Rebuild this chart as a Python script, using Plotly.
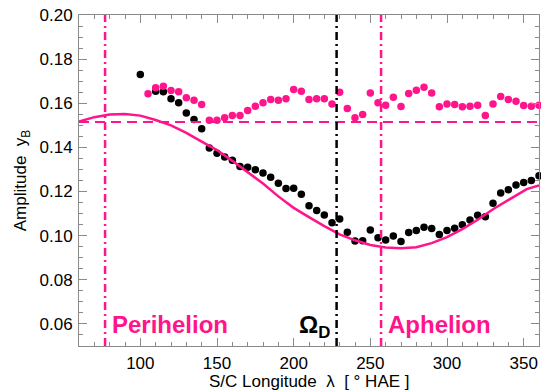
import plotly.graph_objects as go

# ---- data ----
black_lon = [100, 110, 115, 120, 125, 130, 135, 140, 145, 150, 155, 160, 165, 170, 175,
             180, 185, 190, 195, 200, 205, 210, 215, 220, 225, 230, 235, 240, 245, 250,
             255, 260, 265, 270, 275, 280, 285, 290, 295, 300, 305, 310, 315, 320, 325,
             330, 335, 340, 345, 350, 355, 360]
black_amp = [0.1730, 0.1655, 0.1652, 0.1621, 0.1602, 0.1556, 0.1526, 0.1484, 0.1397, 0.1373,
             0.1357, 0.1342, 0.1314, 0.1310, 0.1299, 0.1284, 0.1265, 0.1238, 0.1214, 0.1215,
             0.1188, 0.1136, 0.1114, 0.1094, 0.1059, 0.1076, 0.1015, 0.0976, 0.0977, 0.1026,
             0.0991, 0.0980, 0.0999, 0.0973, 0.1014, 0.1023, 0.1038, 0.1032, 0.1005, 0.1023,
             0.1034, 0.1049, 0.1071, 0.1093, 0.1086, 0.1147, 0.1193, 0.1208, 0.1230, 0.1241,
             0.1250, 0.1271]

pink_lon = [105, 110, 115, 120, 125, 130, 135, 140, 145, 150, 155, 160, 165, 170, 175,
            180, 185, 190, 195, 200, 205, 210, 215, 220, 225, 230, 235, 240, 245, 250,
            255, 260, 265, 270, 275, 280, 285, 290, 295, 300, 305, 310, 315, 320, 325,
            330, 335, 340, 345, 350, 355, 360]
pink_amp = [0.1643, 0.1670, 0.1677, 0.1658, 0.1652, 0.1625, 0.1614, 0.1594, 0.1523, 0.1523,
            0.1534, 0.1544, 0.1544, 0.1567, 0.1586, 0.1602, 0.1617, 0.1614, 0.1621, 0.1662,
            0.1655, 0.1617, 0.1620, 0.1620, 0.1597, 0.1650, 0.1576, 0.1534, 0.1549, 0.1647,
            0.1602, 0.1591, 0.1627, 0.1585, 0.1644, 0.1659, 0.1673, 0.1647, 0.1584, 0.1597,
            0.1594, 0.1584, 0.1586, 0.1591, 0.1545, 0.1597, 0.1631, 0.1617, 0.1609, 0.1590,
            0.1586, 0.1591]

model_lon = [60, 70, 80, 90, 100, 110, 120, 130, 140, 150, 160, 170, 180, 190, 200, 210,
             220, 230, 240, 250, 260, 270, 280, 290, 300, 310, 320, 330, 340, 350, 352, 360]
model_amp = [0.1517, 0.1537, 0.1549, 0.1551, 0.1544, 0.1524, 0.1500, 0.1466, 0.1426, 0.1388,
             0.1339, 0.1288, 0.1236, 0.1178, 0.1126, 0.1084, 0.1043, 0.1006, 0.0979, 0.0958,
             0.0946, 0.0943, 0.0948, 0.0966, 0.0993, 0.1030, 0.1072, 0.1120, 0.1163, 0.1203,
             0.1211, 0.1228]

mean_amp = 0.1515
perihelion_lon = 77
aphelion_lon = 257
omega_lon = 228

x_range = [60, 360]
y_range = [0.05, 0.20]
x_ticks = [100, 150, 200, 250, 300, 350]
y_ticks = [0.06, 0.08, 0.10, 0.12, 0.14, 0.16, 0.18, 0.20]

PINK = "#FF148C"
FONT = "Liberation Sans, Arial, Helvetica, sans-serif"
AXC = "#8a8a8a"

fig = go.Figure()

# dots
fig.add_trace(go.Scatter(x=black_lon, y=black_amp, mode="markers",
                         marker=dict(color="black", size=7.5), cliponaxis=False))
fig.add_trace(go.Scatter(x=pink_lon, y=pink_amp, mode="markers",
                         marker=dict(color=PINK, size=7.5), cliponaxis=False))
# model curve
fig.add_trace(go.Scatter(x=model_lon, y=model_amp, mode="lines",
                         line=dict(color=PINK, width=2.5)))
# mean dashed line
fig.add_trace(go.Scatter(x=x_range, y=[mean_amp, mean_amp], mode="lines",
                         line=dict(color=PINK, width=2.2, dash="10px,6px")))
# vertical dash-dot lines
for xv, col in [(perihelion_lon, PINK), (aphelion_lon, PINK), (omega_lon, "black")]:
    fig.add_trace(go.Scatter(x=[xv, xv], y=y_range, mode="lines",
                             line=dict(color=col, width=2.5, dash="8px,4px,2px,4px")))

# labels
fig.add_annotation(x=perihelion_lon + 3.5, y=0.0598, xanchor="left", yanchor="middle",
                   text="<b>Perihelion</b>", showarrow=False,
                   font=dict(family=FONT, size=24, color=PINK))
fig.add_annotation(x=aphelion_lon + 3.5, y=0.0598, xanchor="left", yanchor="middle",
                   text="<b>Aphelion</b>", showarrow=False,
                   font=dict(family=FONT, size=24, color=PINK))
fig.add_annotation(x=omega_lon - 3, y=0.0590, xanchor="right", yanchor="middle",
                   text="<b>Ω<sub>D</sub></b>", showarrow=False,
                   font=dict(family=FONT, size=24, color="black"))

# x-axis title placed below the tick labels
fig.add_annotation(xref="paper", yref="paper", x=0.5, y=-0.074,
                   xanchor="center", yanchor="top", showarrow=False,
                   text="S/C Longitude\u00a0\u00a0λ\u00a0\u00a0[\u00a0°\u00a0HAE\u00a0]",
                   font=dict(family=FONT, size=17, color="black"))

axis_common = dict(showgrid=False, zeroline=False, showline=True, linecolor=AXC,
                   linewidth=1, mirror="ticks", ticks="inside", ticklen=8,
                   tickcolor=AXC, tickwidth=1,
                   tickfont=dict(family=FONT, size=17, color="black"))

fig.update_xaxes(range=x_range, tickvals=x_ticks, **axis_common, ticklabelstandoff=2,
                 minor=dict(dtick=10, ticklen=4, tickcolor=AXC, ticks="inside"))
fig.update_yaxes(range=y_range, tickvals=y_ticks, tickformat=".2f", **axis_common,
                 ticklabelstandoff=2,
                 minor=dict(dtick=0.005, ticklen=4, tickcolor=AXC, ticks="inside"),
                 title=dict(text="Amplitude\u00a0\u00a0y<sub>B</sub>",
                            font=dict(family=FONT, size=17, color="black"), standoff=8))

fig.update_layout(width=541, height=391, showlegend=False,
                  margin=dict(l=79, r=2, t=15, b=45),
                  plot_bgcolor="white", paper_bgcolor="white")

fig.write_html("out.html")
